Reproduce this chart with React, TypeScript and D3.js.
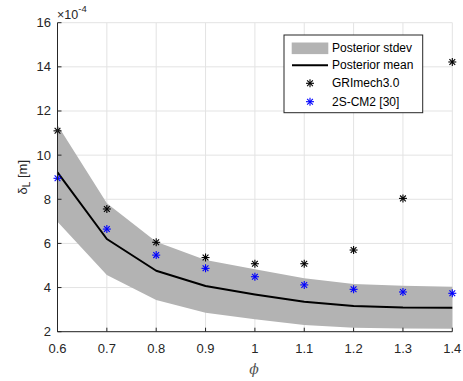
import { useMemo } from 'react';
import * as d3 from 'd3';

// equivalence ratio
const phi = [0.6, 0.7, 0.8, 0.9, 1.0, 1.1, 1.2, 1.3, 1.4];
// flame thickness, units of 1e-4 m
const postMean = [9.22, 6.2, 4.76, 4.07, 3.69, 3.36, 3.16, 3.1, 3.09];
const postUpper = [11.36, 7.82, 6.08, 5.25, 4.83, 4.42, 4.16, 4.08, 4.04];
const postLower = [6.98, 4.57, 3.44, 2.86, 2.56, 2.3, 2.18, 2.14, 2.13];
const griMech = [11.1, 7.56, 6.05, 5.36, 5.08, 5.08, 5.7, 8.04, 14.22];
const cm2 = [8.95, 6.65, 5.47, 4.87, 4.49, 4.12, 3.92, 3.8, 3.74];

const xTicks = [0.6, 0.7, 0.8, 0.9, 1.0, 1.1, 1.2, 1.3, 1.4];
const yTicks = [2, 4, 6, 8, 10, 12, 14, 16];

const FONT = "'Liberation Sans', Arial, Helvetica, sans-serif";
const AX = '#262626';
const BAND = '#b3b3b3';

function Asterisk({ x, y, color, r = 4 }: { x: number; y: number; color: string; r?: number }) {
  const d = r * 0.72;
  return (
    <g stroke={color} strokeWidth={1.1}>
      <line x1={x - r} x2={x + r} y1={y} y2={y} />
      <line x1={x} x2={x} y1={y - r} y2={y + r} />
      <line x1={x - d} x2={x + d} y1={y - d} y2={y + d} />
      <line x1={x - d} x2={x + d} y1={y + d} y2={y - d} />
    </g>
  );
}

export default function App() {
  const width = 463;
  const height = 381;
  const left = 57.5;
  const right = 452.3;
  const top = 22.7;
  const bottom = 331.7;

  const x = d3.scaleLinear().domain([0.6, 1.4]).range([left, right]);
  const y = d3.scaleLinear().domain([2, 16]).range([bottom, top]);

  const { bandPath, meanPath } = useMemo(() => {
    const idx = d3.range(phi.length);
    const area = d3
      .area<number>()
      .x((i) => x(phi[i]))
      .y0((i) => y(postLower[i]))
      .y1((i) => y(postUpper[i]));
    const line = d3
      .line<number>()
      .x((i) => x(phi[i]))
      .y((i) => y(postMean[i]));
    return { bandPath: area(idx) ?? '', meanPath: line(idx) ?? '' };
  }, []); // eslint-disable-line react-hooks/exhaustive-deps

  const lg = { x: 284, y: 35, w: 138.7, h: 77.7 };
  const rows = [48.3, 65.3, 83.3, 101.7];

  return (
    <div style={{ position: 'absolute', left: 0, top: 0 }}>
      <svg width={width} height={height} fontFamily={FONT} style={{ display: 'block', background: '#fff' }}>
        {/* grid */}
        {xTicks.map((t) => (
          <line key={'gx' + t} x1={x(t)} x2={x(t)} y1={top} y2={bottom} stroke='#e3e3e3' strokeWidth={1} />
        ))}
        {yTicks.map((t) => (
          <line key={'gy' + t} x1={left} x2={right} y1={y(t)} y2={y(t)} stroke='#e3e3e3' strokeWidth={1} />
        ))}

        {/* posterior stdev band */}
        <path d={bandPath} fill={BAND} />

        {/* posterior mean */}
        <path d={meanPath} fill='none' stroke='#000' strokeWidth={2} strokeLinejoin='round' />

        {/* reference mechanisms */}
        {phi.map((p, i) => (
          <Asterisk key={'g' + p} x={x(p)} y={y(griMech[i])} color='#000' />
        ))}
        {phi.map((p, i) => (
          <Asterisk key={'c' + p} x={x(p)} y={y(cm2[i])} color='#0000ff' />
        ))}

        {/* axes */}
        <line x1={left} x2={right} y1={bottom} y2={bottom} stroke={AX} strokeWidth={1} />
        <line x1={left} x2={left} y1={top} y2={bottom} stroke={AX} strokeWidth={1} />
        {xTicks.map((t) => (
          <g key={'xt' + t}>
            <line x1={x(t)} x2={x(t)} y1={bottom} y2={bottom - 4} stroke={AX} />
            <text x={x(t)} y={353} textAnchor='middle' fontSize={13} fill={AX}>
              {String(t)}
            </text>
          </g>
        ))}
        {yTicks.map((t) => (
          <g key={'yt' + t}>
            <line x1={left} x2={left + 4} y1={y(t)} y2={y(t)} stroke={AX} />
            <text x={51} y={y(t)} textAnchor='end' dominantBaseline='central' fontSize={13} fill={AX}>
              {t}
            </text>
          </g>
        ))}

        {/* exponent */}
        <text x={57} y={19} fontSize={12.5} fill={AX}>
          ×10
          <tspan dy={-7} fontSize={9.5}>
            -4
          </tspan>
        </text>

        {/* axis labels */}
        <text x={254} y={374} textAnchor='middle' fontSize={14} fontStyle='italic' fill='#555' fontFamily="'DejaVu Serif', serif">
          ϕ
        </text>
        <text transform={`translate(27,${(top + bottom) / 2}) rotate(-90)`} textAnchor='middle' fontSize={13} fill={AX}>
          δ
          <tspan dy={3} fontSize={10}>
            L
          </tspan>
          <tspan dy={-3}> [m]</tspan>
        </text>

        {/* legend */}
        <rect x={lg.x} y={lg.y} width={lg.w} height={lg.h} fill='#fff' stroke={AX} strokeWidth={1} />
        <rect x={291.7} y={rows[0] - 5.8} width={36.6} height={11.6} fill={BAND} />
        <line x1={292} x2={328} y1={rows[1]} y2={rows[1]} stroke='#000' strokeWidth={2} />
        <Asterisk x={310} y={rows[2]} color='#000' />
        <Asterisk x={310} y={rows[3]} color='#0000ff' />
        {['Posterior stdev', 'Posterior mean', 'GRImech3.0', '2S-CM2 [30]'].map((s, i) => (
          <text key={s} x={332} y={rows[i]} dominantBaseline='central' fontSize={12} fill='#000'>
            {s}
          </text>
        ))}
      </svg>
    </div>
  );
}
